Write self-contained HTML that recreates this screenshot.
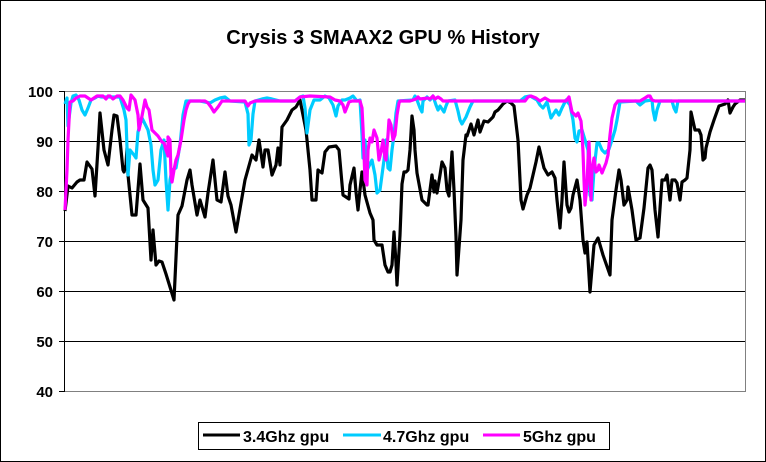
<!DOCTYPE html>
<html><head><style>html,body{margin:0;padding:0;background:#fff}svg{display:block}</style></head><body>
<svg width="766" height="462" viewBox="0 0 766 462" xmlns="http://www.w3.org/2000/svg" font-family="Liberation Sans, Arial, sans-serif">
<rect x="0.5" y="0.5" width="765" height="461" fill="#fff" stroke="#000"/>
<text x="383" y="44" text-anchor="middle" font-size="20" font-weight="bold">Crysis 3 SMAAX2 GPU % History</text>
<g stroke="#000" stroke-width="1">
<line x1="64" y1="141.5" x2="745" y2="141.5"/><line x1="64" y1="191.5" x2="745" y2="191.5"/>
<line x1="64" y1="241.5" x2="745" y2="241.5"/><line x1="64" y1="291.5" x2="745" y2="291.5"/>
<line x1="64" y1="341.5" x2="745" y2="341.5"/>
</g>
<rect x="64.5" y="91.5" width="681" height="300" fill="none" stroke="#808080"/>
<line x1="64.5" y1="91" x2="64.5" y2="392" stroke="#000"/>
<g stroke="#000"><line x1="59" y1="91.5" x2="64" y2="91.5"/><line x1="59" y1="141.5" x2="64" y2="141.5"/><line x1="59" y1="191.5" x2="64" y2="191.5"/><line x1="59" y1="241.5" x2="64" y2="241.5"/><line x1="59" y1="291.5" x2="64" y2="291.5"/><line x1="59" y1="341.5" x2="64" y2="341.5"/><line x1="59" y1="391.5" x2="64" y2="391.5"/></g>
<g font-size="15" font-weight="bold" text-anchor="end">
<text x="53" y="97">100</text><text x="53" y="147">90</text><text x="53" y="197">80</text><text x="53" y="247">70</text><text x="53" y="297">60</text><text x="53" y="347">50</text><text x="53" y="397">40</text>
</g>
<g fill="none" stroke-width="3.2" stroke-linejoin="round">
<polyline stroke="#000" points="65,211 68,186 72,188 77,182 80,180 84,180 87,162 92,169 95,196 98,148 100,113 104,150 108,165 112,130 114,115 117,116 120,140 123,170 124,172 126,165 127,148 128,175 132,215 136,215 140,164 143,200 148,208 151,260 153,230 156,265 159,261 162,262 166,274 174,300 178,215 182,206 187,180 190,170 192,185 197,215 200,200 205,217 208,193 213,160 217,200 221,202 225,172 228,196 231,205 236,232 245,180 252,155 256,160 259,140 263,167 265,150 268,150 272,175 276,165 278,148 280,165 282,127 287,120 292,110 296,107 300,100 306,130 310,170 312,200 316,200 318,170 322,173 325,152 329,147 336,146 339,150 343,195 349,199 350,185 354,168 356,192 358,210 360,190 362,172 365,195 370,213 373,220 374,240 377,245 382,245 385,265 388,272 390,272 392,265 394,232 396,263 397,285 400,235 402,184 404,172 406,172 408,170 410,150 412,116 414,130 415,150 417,173 422,200 427,205 428,205 430,190 432,175 434,192 435,181 437,193 440,175 442,162 445,168 447,190 449,196 452,152 454,190 456,237 457,275 461,220 463,160 466,135 467,136 471,124 474,135 478,120 480,132 484,121 488,122 493,117 495,112 498,110 503,104 507,101 511,103 514,106 518,140 521,200 523,209 527,195 530,188 536,162 539,147 544,168 548,175 552,172 555,178 557,200 560,228 562,200 564,162 567,205 569,212 571,208 573,195 577,180 580,200 583,240 585,253 587,242 590,292 594,245 598,238 603,255 610,275 612,220 616,190 619,170 621,180 624,205 627,200 628,187 632,210 636,240 640,238 644,208 648,168 650,165 652,170 655,210 658,237 662,180 665,180 667,175 670,200 672,180 675,180 677,183 680,200 682,182 685,180 687,178 690,150 691,112 695,130 699,130 701,135 703,160 705,158 706,148 710,132 714,120 719,106 722,105 725,104 728,100 730,113 733,107 735,104 740,100 745,100"/>
<polyline stroke="#00ccff" points="65,104 67,98 68,126 71,103 73,96 76,95 79,100 82,110 85,115 88,108 91,100 95,98 98,96 101,97 120,97 124,110 126,120 128,175 130,150 134,155 136,158 138,132 142,118 148,130 151,145 153,170 155,185 158,180 161,150 164,140 166,180 168,210 170,180 172,170 176,168 180,145 183,115 186,101 200,101 210,103 215,100 220,98 225,97 230,101 245,102 248,114 249,145 251,140 253,114 255,101 262,99 267,98 272,99 280,101 295,101 300,97 303,96 305,108 307,133 310,110 314,100 320,100 325,96 329,98 333,105 336,116 338,106 342,100 345,100 350,98 353,96 357,101 360,100 362,135 363,158 365,140 367,170 372,160 375,175 377,193 380,190 382,175 384,160 386,140 388,168 390,170 392,150 394,135 396,113 398,101 413,100 415,96 417,100 420,108 422,112 423,101 427,97 430,100 433,96 436,105 438,110 440,106 444,112 446,106 448,101 455,100 458,111 460,120 462,124 466,117 470,107 473,101 520,101 525,97 530,96 537,100 540,105 543,108 547,102 551,118 556,110 559,115 562,108 566,100 570,105 573,120 575,138 577,142 579,131 582,130 585,140 588,150 590,195 592,200 594,170 597,143 599,143 602,150 605,153 609,149 612,140 615,130 617,120 620,102 636,101 640,105 645,101 652,100 653,110 655,120 657,110 660,101 672,101 674,108 676,112 678,101 745,101"/>
<polyline stroke="#ff00ff" points="65,210 67,170 68,140 70,102 73,101 76,98 80,96 85,96 88,98 91,100 94,98 97,96 103,96 106,99 108,96 110,96 113,99 117,96 120,96 123,100 127,108 129,110 131,95 135,100 138,115 139,130 142,116 145,100 147,107 149,110 152,130 155,133 158,136 162,142 164,143 166,150 168,156 168,137 170,140 171,175 172,182 174,170 176,160 178,155 181,140 184,120 186,110 188,104 190,101 205,101 208,103 211,107 214,112 218,107 222,101 245,101 248,106 250,103 255,101 295,101 300,97 310,96 330,97 335,100 340,101 343,105 345,112 349,102 352,101 360,101 362,108 363,128 365,180 367,185 368,150 370,138 372,142 374,130 377,138 379,160 381,152 383,140 385,158 386,160 388,135 389,120 391,125 393,140 395,135 397,115 399,103 400,101 410,101 416,99 418,97 420,99 428,98 430,99 433,96 435,99 438,97 441,99 443,101 525,101 528,97 531,96 536,98 540,101 545,98 550,101 566,101 569,97 572,112 576,116 578,113 581,121 582,133 583,152 584,180 585,205 587,185 588,160 589,142 591,200 592,170 594,158 596,172 598,170 599,165 602,173 604,168 606,163 608,155 610,135 612,118 615,105 618,101 640,101 645,98 648,96 650,96 652,100 655,101 745,101"/>
</g>
<rect x="198.5" y="422.5" width="411" height="27" fill="#fff" stroke="#000"/>
<g stroke-width="3"><line x1="203" y1="435" x2="240" y2="435" stroke="#000"/><line x1="343" y1="435" x2="381" y2="435" stroke="#00ccff"/><line x1="483" y1="435" x2="520" y2="435" stroke="#ff00ff"/></g>
<g font-size="16" font-weight="bold"><text x="243" y="442">3.4Ghz gpu</text><text x="383" y="442">4.7Ghz gpu</text><text x="523" y="442">5Ghz gpu</text></g>
</svg>
</body></html>
